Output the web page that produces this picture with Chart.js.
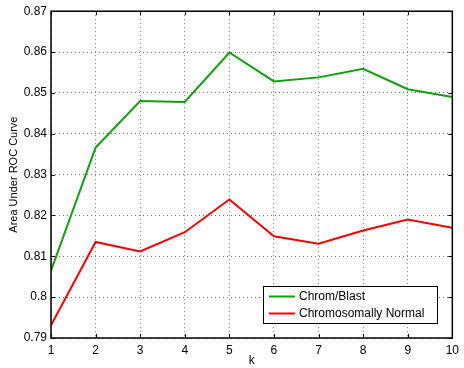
<!DOCTYPE html>
<html>
<head>
<meta charset="utf-8">
<script src="https://cdn.jsdelivr.net/npm/chart.js@4/dist/chart.umd.min.js"></script>
<style>
html,body{margin:0;padding:0;background:#fff;}
#c{display:block;}
</style>
</head>
<body>
<canvas id="c" width="464" height="368"></canvas>
<script>
const kValues = [1,2,3,4,5,6,7,8,9,10];
const chromBlast = [0.8065,0.8366,0.8480,0.8478,0.8599,0.8528,0.8538,0.8559,0.8509,0.8490];
const chromNormal = [0.7931,0.8135,0.8112,0.8159,0.8239,0.8149,0.8131,0.8163,0.8190,0.8170];
const seriesLabels = ['Chrom/Blast','Chromosomally Normal'];
const seriesColors = ['#10a010','#ff0000'];
const yTicks = [0.79,0.80,0.81,0.82,0.83,0.84,0.85,0.86,0.87];

const FONT = 'Liberation Sans, Arial, Helvetica, sans-serif';

const framePlugin = {
  id: 'frame',
  afterDatasetsDraw(chart) {
    const {ctx, chartArea: a, scales} = chart;
    ctx.save();
    ctx.strokeStyle = '#000';
    ctx.lineWidth = 1;
    ctx.setLineDash([]);
    const tl = 4;
    ctx.beginPath();
    scales.x.ticks.forEach(t => {
      const px = Math.round(scales.x.getPixelForValue(t.value)) + 0.5;
      ctx.moveTo(px, a.bottom); ctx.lineTo(px, a.bottom - tl);
      ctx.moveTo(px, a.top); ctx.lineTo(px, a.top + tl);
    });
    scales.y.ticks.forEach(t => {
      const py = Math.round(scales.y.getPixelForValue(t.value)) + 0.5;
      ctx.moveTo(a.left, py); ctx.lineTo(a.left + tl, py);
      ctx.moveTo(a.right, py); ctx.lineTo(a.right - tl, py);
    });
    ctx.stroke();
    ctx.lineWidth = 1.5;
    ctx.strokeRect(a.left, a.top, a.right - a.left, a.bottom - a.top);
    ctx.restore();
  }
};

const legendPlugin = {
  id: 'boxLegend',
  afterDraw(chart) {
    const {ctx} = chart;
    const x0 = 263, y0 = 286, w = 174, h = 37;
    ctx.save();
    ctx.fillStyle = '#fff';
    ctx.fillRect(x0, y0, w, h);
    ctx.strokeStyle = '#000';
    ctx.lineWidth = 1;
    ctx.strokeRect(x0 + 0.5, y0 + 0.5, w, h);
    ctx.font = '12px ' + FONT;
    ctx.textBaseline = 'middle';
    chart.data.datasets.forEach((ds, i) => {
      const yy = y0 + 10.5 + i * 17;
      ctx.strokeStyle = ds.borderColor;
      ctx.lineWidth = 2;
      ctx.beginPath();
      ctx.moveTo(x0 + 6, yy); ctx.lineTo(x0 + 32, yy);
      ctx.stroke();
      ctx.fillStyle = '#000';
      ctx.fillText(ds.label, x0 + 36, yy);
    });
    ctx.restore();
  }
};

new Chart(document.getElementById('c'), {
  type: 'line',
  data: {
    labels: kValues,
    datasets: [
      {label: seriesLabels[0], data: kValues.map((k,i)=>({x:k,y:chromBlast[i]})), borderColor: seriesColors[0], borderWidth: 2, pointRadius: 0, tension: 0, fill: false},
      {label: seriesLabels[1], data: kValues.map((k,i)=>({x:k,y:chromNormal[i]})), borderColor: seriesColors[1], borderWidth: 2, pointRadius: 0, tension: 0, fill: false}
    ]
  },
  options: {
    responsive: false,
    animation: false,
    devicePixelRatio: 1,
    layout: {padding: {top: 9, right: 5, left: 0, bottom: 0}},
    plugins: {legend: {display: false}, tooltip: {enabled: false}},
    scales: {
      x: {
        type: 'linear', min: 1, max: 10,
        afterFit(s) { s.height = 30; },
        ticks: {stepSize: 1, color: '#000', font: {family: FONT, size: 12}, padding: 5, maxRotation: 0},
        grid: {color: '#777', drawTicks: false, lineWidth: 1},
        border: {display: false, dash: [1, 3]},
        title: {display: true, text: 'k', color: '#000', font: {family: FONT, size: 12}, padding: {top: 2, bottom: 0}}
      },
      y: {
        type: 'linear', min: 0.79, max: 0.87,
        afterFit(s) { s.width = 51; },
        afterBuildTicks(s) { s.ticks = yTicks.map(v => ({value: v})); },
        ticks: {color: '#000', font: {family: FONT, size: 12}, padding: 4,
          callback: v => String(Number(v.toFixed(2)))},
        grid: {color: '#777', drawTicks: false, lineWidth: 1},
        border: {display: false, dash: [1, 3]},
        title: {display: true, text: 'Area Under ROC Curve', color: '#000', font: {family: FONT, size: 11}, padding: {top: 7, bottom: 0}}
      }
    }
  },
  plugins: [framePlugin, legendPlugin]
});
</script>
</body>
</html>
